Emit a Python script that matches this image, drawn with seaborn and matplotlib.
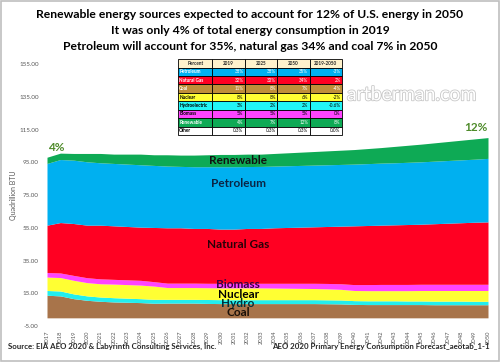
import numpy as np
import matplotlib
matplotlib.use("Agg")
import matplotlib.pyplot as plt
import matplotlib.patheffects as pe
from matplotlib.patches import Rectangle
import seaborn as sns

# primary energy consumption, quadrillion BTU
years = list(range(2017, 2051))
coal = [13.8, 13.4, 11.7, 10.7, 10.1, 9.7, 9.5, 9.3, 8.9, 9.0, 9.0, 9.0, 8.8, 8.7, 8.7, 8.7, 8.7,
        8.7, 8.7, 8.7, 8.7, 8.6, 8.5, 8.2, 8.1, 8.1, 8.1, 8.1, 8.1, 8.0, 8.0, 8.0, 8.0, 8.0]
hydro = [2.9, 3.0, 2.9, 2.7, 2.6, 2.6, 2.5, 2.4, 2.4, 2.3, 2.3, 2.3, 2.4, 2.4, 2.4, 2.4, 2.4,
         2.4, 2.4, 2.4, 2.4, 2.4, 2.4, 2.3, 2.3, 2.3, 2.3, 2.2, 2.2, 2.2, 2.2, 2.2, 2.1, 2.1]
nuclear = [8.2, 8.2, 8.3, 8.1, 8.1, 8.3, 8.3, 8.3, 8.1, 7.2, 7.2, 7.2, 7.2, 7.2, 7.2, 7.2, 7.2,
           7.1, 7.0, 6.9, 6.8, 6.7, 6.5, 6.2, 6.2, 6.2, 6.2, 6.3, 6.4, 6.5, 6.5, 6.5, 6.6, 6.6]
biomass = [2.8, 2.8, 3.0, 3.0, 3.0, 2.9, 2.9, 2.9, 2.7, 2.7, 2.7, 2.7, 2.7, 2.8, 2.8, 2.8, 2.8,
           2.9, 3.0, 3.1, 3.2, 3.3, 3.4, 3.6, 3.7, 3.8, 3.8, 3.8, 3.8, 3.8, 3.8, 3.8, 3.8, 3.8]
natural_gas = [28.9, 30.8, 31.7, 32.1, 32.8, 32.7, 32.6, 32.5, 33.1, 33.8, 33.8, 33.4, 33.5, 33.1,
               33.1, 33.5, 33.5, 33.9, 34.1, 34.3, 34.5, 34.8, 35.2, 35.9, 36.1, 36.2, 36.4, 36.6,
               36.7, 37.0, 37.3, 37.6, 37.9, 38.1]
petroleum = [37.7, 38.5, 38.7, 38.7, 38.1, 38.1, 38.1, 38.1, 37.9, 37.7, 37.5, 37.7, 37.7, 38.1,
             38.1, 37.8, 37.9, 37.7, 37.7, 37.7, 37.7, 37.7, 37.7, 37.7, 37.8, 37.9, 37.9, 38.0,
             38.1, 38.2, 38.3, 38.4, 38.5, 38.8]
renewable = [3.8, 3.9, 4.1, 5.1, 5.7, 5.7, 6.1, 6.5, 6.5, 6.9, 6.9, 7.1, 7.3, 7.5, 7.5, 7.6, 7.5,
             7.7, 7.9, 8.1, 8.3, 8.5, 8.7, 8.9, 9.2, 9.5, 10.0, 10.4, 10.8, 11.2, 11.6, 12.0,
             12.4, 12.7]

series_names = ["Coal", "Hydro", "Nuclear", "Biomass", "Natural Gas", "Petroleum", "Renewable"]
series_colors = ["#A8744A", "#22EEEE", "#FFFF33", "#FF44FF", "#FF0022", "#00B0F0", "#0EAA55"]

# summary table
table_cols = ["Percent", "2019", "2025", "2050", "2019-2050"]
table_rows = ["Petroleum", "Natural Gas", "Coal", "Nuclear", "Hydroelectric", "Biomass", "Renewable", "Other"]
table_vals = [["38%", "38%", "35%", "-3%"],
              ["32%", "33%", "34%", "2%"],
              ["11%", "8%", "7%", "-4%"],
              ["8%", "8%", "6%", "-2%"],
              ["3%", "2%", "2%", "-0.6%"],
              ["5%", "5%", "5%", "0%"],
              ["4%", "7%", "12%", "8%"],
              ["0.3%", "0.3%", "0.3%", "0.0%"]]
row_colors = ["#00B0F0", "#FF0022", "#BF8F3A", "#FFFF33", "#22F5F5", "#FF44FF", "#0EAA55", "white"]
row_text = ["white", "white", "white", "black", "black", "black", "white", "black"]

sns.set_theme(style="white")
plt.rcParams["font.family"] = ["Lato", "DejaVu Sans"]

fig = plt.figure(figsize=(5, 3.62), dpi=100)
ax = fig.add_axes([0.094, 0.0994, 0.882, 0.7236])

ax.stackplot(years, coal, hydro, nuclear, biomass, natural_gas, petroleum, renewable,
             colors=series_colors, linewidth=0)
ax.set_xlim(2017, 2050)
ax.set_ylim(-5, 155)
ax.set_yticks(np.arange(-5, 156, 20))
ax.set_yticklabels([f"{v:.2f}" for v in np.arange(-5, 156, 20)])
ax.set_xticks(years)
ax.set_xticklabels([str(y) for y in years], rotation=90)
ax.tick_params(axis="y", labelsize=4.5, colors="#595959", length=2, width=0.4, pad=4)
ax.tick_params(axis="x", labelsize=4.2, colors="#595959", length=2, width=0.4, pad=1)
ax.set_ylabel("Quadrillion BTU", fontsize=5, color="#595959")
ax.yaxis.set_label_coords(-0.068, 0.5)
sns.despine(ax=ax, left=True, bottom=True)

# layer labels
lab_kw = dict(ha="center", va="center", fontsize=8.5, fontweight="bold")
ax.text(2031.3, 96.3, "Renewable", color="#111111", **lab_kw)
ax.text(2031.3, 82.3, "Petroleum", color="#0B2545", **lab_kw)
ax.text(2031.3, 45.0, "Natural Gas", color="#2A0008", **lab_kw)
ax.text(2031.3, 20.5, "Biomass", color="#3A0040", **lab_kw)
ax.text(2031.3, 14.4, "Nuclear", color="black", **lab_kw)
ax.text(2031.3, 8.9, "Hydro", color="#00303A", **lab_kw)
ax.text(2031.3, 3.4, "Coal", color="#1A1008", **lab_kw)
ax.text(2017.1, 103.8, "4%", color="#4E8B2A", fontsize=8.5, fontweight="bold", ha="left", va="center")
ax.text(2050, 116.0, "12%", color="#4E8B2A", fontsize=8.5, fontweight="bold", ha="right", va="center")

# watermark
fig.text(0.694, 0.738, "artberman.com", fontsize=14, color="white", ha="left", va="center",
         path_effects=[pe.withStroke(linewidth=1.2, foreground="#C8C8C8")], zorder=1)

tab = ax.table(cellText=[[r] + v for r, v in zip(table_rows, table_vals)], colLabels=table_cols,
               cellLoc="right", bbox=[0.297, 0.729, 0.372, 0.29],
               colWidths=[0.21, 0.1975, 0.1975, 0.1975, 0.1975])
tab.auto_set_font_size(False)
tab.set_zorder(5)
for (r, c), cell in tab.get_celld().items():
    cell.set_edgecolor("black")
    cell.set_linewidth(0.6)
    cell.PAD = 0.04
    if r == 0:
        cell.set_facecolor("#FFF2CC")
        cell.get_text().set_ha("center")
        cell._loc = "center"
        cell.get_text().set_fontweight("bold")
        cell.get_text().set_fontsize(3.3)
        continue
    cell.set_facecolor(row_colors[r - 1])
    cell.get_text().set_color(row_text[r - 1])
    cell.get_text().set_fontsize(3.3)
    if c == 0:
        cell._loc = "left"
        cell.get_text().set_ha("left")
        cell.get_text().set_fontweight("bold")

# titles
title_lines = ["Renewable energy sources expected to account for 12% of U.S. energy in 2050",
               "It was only 4% of total energy consumption in 2019",
               "Petroleum will account for 35%, natural gas 34% and coal 7% in 2050"]
for i, line in enumerate(title_lines):
    fig.text(0.5, 1 - (15 + 16 * i) / 362, line, ha="center", va="center",
             fontsize=8.7, fontweight="bold", color="black")

fig.text(0.016, 0.044, "Source: EIA AEO 2020 & Labyrinth Consulting Services, Inc.",
         fontsize=5.7, fontweight="bold", ha="left", va="center")
fig.text(0.98, 0.044, "AEO 2020 Primary Energy Consumption Forecast_aeotab_1-1",
         fontsize=5.7, fontweight="bold", ha="right", va="center")

fig.patches.append(Rectangle((0.002, 0.003), 0.996, 0.994, transform=fig.transFigure,
                             fill=False, edgecolor="#BFBFBF", linewidth=1.2))

fig.savefig("out.png", dpi=100, facecolor="white")
